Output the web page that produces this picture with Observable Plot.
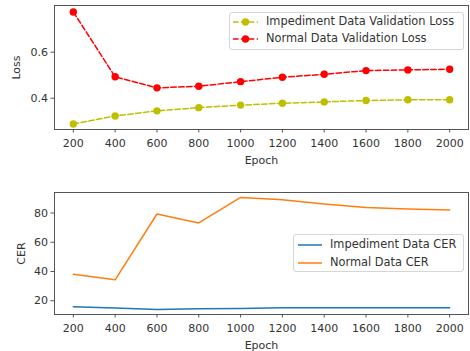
<!DOCTYPE html>
<html><head><meta charset="utf-8">
<script src="https://cdn.jsdelivr.net/npm/d3@7"></script>
<script src="https://cdn.jsdelivr.net/npm/@observablehq/plot@0.6"></script>
<style>
body{margin:0;background:#fff;}
#wrap{position:relative;width:470px;height:351px;font-family:"DejaVu Sans",sans-serif;overflow:hidden;}
#wrap svg.plot{display:block;}
.leg{position:absolute;background:rgba(255,255,255,0.85);border:1px solid #d6d6d6;border-radius:3px;box-sizing:border-box;}
.legtxt{position:absolute;font-size:11.4px;color:#333;white-space:nowrap;line-height:1;transform:translateY(-50%);}
.legsw{position:absolute;overflow:visible;}
</style></head>
<body><div id="wrap"></div>
<script>
const epochs = [200, 400, 600, 800, 1000, 1200, 1400, 1600, 1800, 2000];
const impedimentLoss = [0.288, 0.323, 0.345, 0.359, 0.370, 0.378, 0.384, 0.390, 0.393, 0.393];
const normalLoss = [0.775, 0.493, 0.445, 0.452, 0.472, 0.491, 0.504, 0.520, 0.523, 0.526];
const impedimentCER = [15.9, 15.0, 14.1, 14.6, 14.7, 15.2, 15.2, 15.2, 15.2, 15.3];
const normalCER = [38.1, 34.3, 79.3, 73.2, 90.6, 89.0, 86.1, 83.8, 82.7, 82.0];
const lossTicks = [0.4, 0.6];
const cerTicks = [20, 40, 60, 80];
const lossSeries = ["Impediment Data Validation Loss", "Normal Data Validation Loss"];
const cerSeries = ["Impediment Data CER", "Normal Data CER"];
const lossColors = ["#bfbf00", "#ff0000"];
const cerColors = ["#1f77b4", "#ff7f0e"];

const lossData = epochs.flatMap((e, i) => [
  {epoch: e, value: impedimentLoss[i], series: lossSeries[0]},
  {epoch: e, value: normalLoss[i], series: lossSeries[1]}
]);
const cerData = epochs.flatMap((e, i) => [
  {epoch: e, value: impedimentCER[i], series: cerSeries[0]},
  {epoch: e, value: normalCER[i], series: cerSeries[1]}
]);

const wrap = document.getElementById("wrap");
const common = {
  width: 470,
  marginLeft: 54,
  marginRight: 2,
  style: {fontFamily: "DejaVu Sans, sans-serif", fontSize: "11px", color: "#333", background: "#fff", overflow: "visible"},
  x: {domain: [110, 2090]}
};

const lossPlot = Plot.plot({
  ...common,
  height: 175,
  marginTop: 5,
  marginBottom: 46,
  y: {domain: [0.264, 0.803]},
  color: {domain: lossSeries, range: lossColors},
  marks: [
    Plot.frame({stroke: "#555", strokeWidth: 1}),
    Plot.axisX({ticks: epochs, tickFormat: d3.format("d"), tickSize: 3.5, tickPadding: 6, label: "Epoch", labelAnchor: "center", labelArrow: "none", labelOffset: 34, stroke: "#555"}),
    Plot.axisY({ticks: lossTicks, tickFormat: d3.format(".1f"), tickSize: 3.5, tickPadding: 3, label: "Loss", labelAnchor: "center", labelArrow: "none", labelOffset: 42, stroke: "#555"}),
    Plot.line(lossData, {x: "epoch", y: "value", z: "series", stroke: "series", strokeWidth: 1.5, strokeDasharray: "5.5,2.4"}),
    Plot.dot(lossData, {x: "epoch", y: "value", fill: "series", r: 3.7})
  ]
});
lossPlot.classList.add("plot");
wrap.appendChild(lossPlot);

const cerPlot = Plot.plot({
  ...common,
  height: 176,
  marginTop: 17,
  marginBottom: 37,
  y: {domain: [10.6, 94]},
  color: {domain: cerSeries, range: cerColors},
  marks: [
    Plot.frame({stroke: "#555", strokeWidth: 1}),
    Plot.axisX({ticks: epochs, tickFormat: d3.format("d"), tickSize: 3.5, tickPadding: 6, label: "Epoch", labelAnchor: "center", labelArrow: "none", labelOffset: 34, stroke: "#555"}),
    Plot.axisY({ticks: cerTicks, tickSize: 3.5, tickPadding: 3, label: "CER", labelAnchor: "center", labelArrow: "none", labelOffset: 37, stroke: "#555"}),
    Plot.line(cerData, {x: "epoch", y: "value", z: "series", stroke: "series", strokeWidth: 1.5})
  ]
});
cerPlot.classList.add("plot");
wrap.appendChild(cerPlot);

// Legends (HTML overlays)
function legend(box, rows, withMarker, dashed) {
  const d = document.createElement("div");
  d.className = "leg";
  Object.assign(d.style, {left: box.x + "px", top: box.y + "px", width: box.w + "px", height: box.h + "px"});
  wrap.appendChild(d);
  rows.forEach(r => {
    const ns = "http://www.w3.org/2000/svg";
    const s = document.createElementNS(ns, "svg");
    s.setAttribute("class", "legsw");
    s.setAttribute("width", r.x2 - r.x1);
    s.setAttribute("height", 10);
    s.style.left = r.x1 + "px";
    s.style.top = (r.y - 5) + "px";
    const l = document.createElementNS(ns, "line");
    l.setAttribute("x1", 0); l.setAttribute("x2", r.x2 - r.x1);
    l.setAttribute("y1", 5); l.setAttribute("y2", 5);
    l.setAttribute("stroke", r.color); l.setAttribute("stroke-width", 1.5);
    if (dashed) l.setAttribute("stroke-dasharray", "5.5,2.4");
    s.appendChild(l);
    if (withMarker) {
      const c = document.createElementNS(ns, "circle");
      c.setAttribute("cx", (r.x2 - r.x1) / 2); c.setAttribute("cy", 5); c.setAttribute("r", 3.7);
      c.setAttribute("fill", r.color);
      s.appendChild(c);
    }
    wrap.appendChild(s);
    const t = document.createElement("div");
    t.className = "legtxt";
    t.textContent = r.label;
    t.style.left = r.tx + "px";
    t.style.top = r.y + "px";
    wrap.appendChild(t);
  });
}
legend({x: 229, y: 12, w: 235, h: 38},
  [{label: lossSeries[0], color: lossColors[0], x1: 233, x2: 258, tx: 266, y: 22},
   {label: lossSeries[1], color: lossColors[1], x1: 233, x2: 258, tx: 266, y: 39}], true, true);
legend({x: 293, y: 234, w: 171, h: 38},
  [{label: cerSeries[0], color: cerColors[0], x1: 298, x2: 322, tx: 330, y: 244.5},
   {label: cerSeries[1], color: cerColors[1], x1: 298, x2: 322, tx: 330, y: 262.5}], false, false);
</script></body></html>
